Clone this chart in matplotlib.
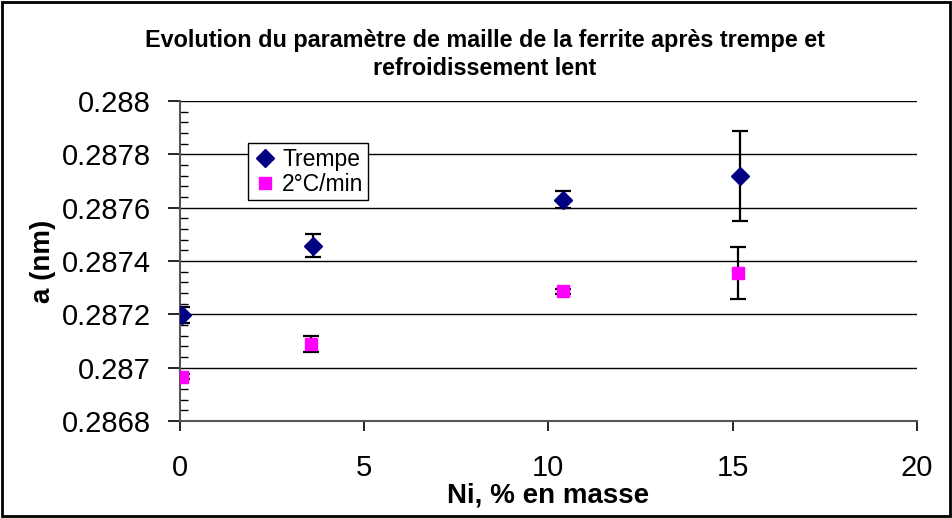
import matplotlib
matplotlib.use("Agg")
import matplotlib.pyplot as plt
from matplotlib.patches import Rectangle
from matplotlib.ticker import MultipleLocator

plt.rcParams['font.family'] = ['Liberation Sans', 'DejaVu Sans']

# Ni content (% en masse) and lattice parameter a (nm)
ni_trempe = [0.05, 3.6, 10.4, 15.2]
a_trempe = [0.287196, 0.287458, 0.28763, 0.28772]
err_trempe = [0.00003, 0.000043, 0.000031, 0.000168]

ni_lent = [0.05, 3.55, 10.4, 15.15]
a_lent = [0.286967, 0.287089, 0.287286, 0.287354]
err_lent = [0.00001, 0.00003, 0.000008, 0.0000975]

fig = plt.figure(figsize=(9.52, 5.18), dpi=100)
ax = fig.add_axes([0.189, 0.187, 0.774, 0.618])

# error bars first, markers on top (legend shows markers only)
ax.errorbar(ni_trempe, a_trempe, yerr=err_trempe, fmt='none', ecolor='black',
            elinewidth=1.6, capsize=5.5, capthick=1.6, zorder=3)
ax.errorbar(ni_lent, a_lent, yerr=err_lent, fmt='none', ecolor='black',
            elinewidth=1.6, capsize=5.5, capthick=1.6, zorder=3)
ax.plot(ni_trempe, a_trempe, 'D', color='#000080', ms=9, label='Trempe', zorder=4)
ax.plot(ni_lent, a_lent, 's', color='#FF00FF', ms=8, label='2°C/min', zorder=4)

ax.set_xlim(0, 20)
ax.set_ylim(0.2868, 0.288)
ax.xaxis.set_major_locator(MultipleLocator(5))
ax.yaxis.set_major_locator(MultipleLocator(0.0002))
ax.yaxis.set_minor_locator(MultipleLocator(0.00004))
ax.yaxis.set_major_formatter(plt.FuncFormatter(lambda v, p: ('%.4f' % v).rstrip('0')))

ax.grid(axis='y', which='major', color='black', linewidth=1)
ax.set_axisbelow(True)
for s in ['top', 'right']:
    ax.spines[s].set_visible(False)
for s in ['left', 'bottom']:
    ax.spines[s].set_color('#555555')
    ax.spines[s].set_linewidth(1.5)

ax.tick_params(axis='y', which='major', direction='out', length=9, width=1.2,
               labelsize=21, pad=12)
ax.tick_params(axis='y', which='minor', direction='in', length=6, width=1)
ax.tick_params(axis='x', which='major', direction='out', length=7, width=1.2,
               labelsize=21, pad=17)

ax.set_xlabel('Ni, % en masse', fontsize=20, fontweight='bold', labelpad=0)
ax.set_ylabel('a (nm)', fontsize=20, fontweight='bold', labelpad=4)

fig.text(0.509, 0.922, 'Evolution du paramètre de maille de la ferrite après trempe et',
         ha='center', va='center', fontsize=16.8, fontweight='bold')
fig.text(0.509, 0.868, 'refroidissement lent',
         ha='center', va='center', fontsize=16.8, fontweight='bold')

leg = ax.legend(loc='upper left', bbox_to_anchor=(0.092, 0.869), fontsize=16.5,
                frameon=True, fancybox=False, edgecolor='black', framealpha=1,
                handletextpad=0.2, borderpad=0.2, labelspacing=0.1,
                handlelength=1.1, borderaxespad=0)
leg.get_frame().set_linewidth(1)

fig.patches.append(Rectangle((0.002, 0.003), 0.996, 0.994, transform=fig.transFigure,
                             fill=False, edgecolor='black', linewidth=2))

fig.savefig('out.png', dpi=100)
